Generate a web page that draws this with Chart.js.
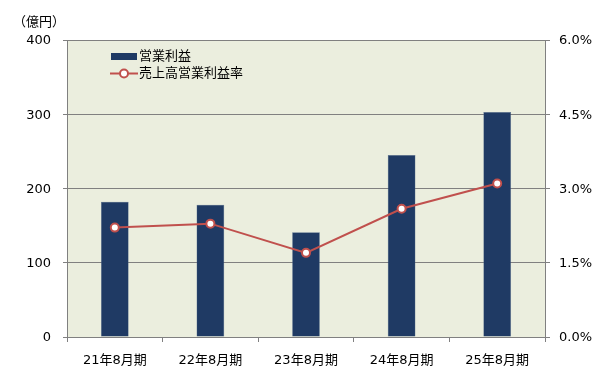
<!DOCTYPE html>
<html>
<head>
<meta charset="utf-8">
<script src="https://cdn.jsdelivr.net/npm/chart.js@4/dist/chart.umd.min.js"></script>
<style>
html,body{margin:0;padding:0;background:#fff;}
#wrap{position:relative;width:610px;height:371px;}
</style>
</head>
<body>
<div id="wrap"><canvas id="c" width="610" height="371"></canvas></div>
<script>
const categories = ['21年8月期','22年8月期','23年8月期','24年8月期','25年8月期'];
const operatingProfit = [182, 178, 141, 245, 303];
const operatingMargin = [2.21, 2.29, 1.70, 2.59, 3.10];
const leftTicks = [0, 100, 200, 300, 400];
const rightTicks = [0, 1.5, 3.0, 4.5, 6.0];
const unitLabel = '（億円）';
const seriesNames = ['営業利益', '売上高営業利益率'];

const FONT = "'DejaVu Sans', 'Noto Sans CJK JP', sans-serif";
const NAVY = '#1F3A64';
const RED = '#C0504D';
const GRID = '#808080';

const bgPlugin = {
  id: 'bg',
  beforeDraw(chart) {
    const {ctx, chartArea: a} = chart;
    ctx.save();
    ctx.fillStyle = '#EBEEDE';
    ctx.fillRect(a.left, a.top, a.right - a.left, a.bottom - a.top);
    ctx.restore();
  }
};

const extrasPlugin = {
  id: 'extras',
  afterDraw(chart) {
    const ctx = chart.ctx;
    ctx.save();
    ctx.font = "13px " + FONT;
    ctx.fillStyle = '#000';
    ctx.textBaseline = 'middle';
    ctx.textAlign = 'left';
    ctx.fillText(unitLabel, 13, 23);
    // legend
    const lx = 111, ly = 56.5;
    ctx.fillStyle = NAVY;
    ctx.fillRect(lx, ly - 3.5, 26, 7);
    ctx.fillStyle = '#000';
    ctx.fillText(chart.data.datasets[0].label, lx + 28, ly);
    const y2 = ly + 17;
    ctx.strokeStyle = RED;
    ctx.lineWidth = 2;
    ctx.beginPath();
    ctx.moveTo(lx - 1, y2);
    ctx.lineTo(lx + 27, y2);
    ctx.stroke();
    ctx.beginPath();
    ctx.arc(lx + 13, y2, 4, 0, Math.PI * 2);
    ctx.fillStyle = '#fff';
    ctx.fill();
    ctx.stroke();
    ctx.fillStyle = '#000';
    ctx.fillText(chart.data.datasets[1].label, lx + 28, y2);
    ctx.restore();
  }
};

new Chart(document.getElementById('c'), {
  type: 'bar',
  data: {
    labels: categories,
    datasets: [
      {
        type: 'bar',
        label: seriesNames[0],
        data: operatingProfit,
        backgroundColor: NAVY,
        borderColor: '#5a7090',
        borderWidth: 0.5,
        yAxisID: 'y',
        categoryPercentage: 1,
        barPercentage: 0.29,
        order: 2
      },
      {
        type: 'line',
        label: seriesNames[1],
        data: operatingMargin,
        borderColor: RED,
        borderWidth: 2,
        pointRadius: 4,
        pointBorderWidth: 2,
        pointBackgroundColor: '#fff',
        pointBorderColor: RED,
        tension: 0,
        yAxisID: 'y1',
        order: 1
      }
    ]
  },
  options: {
    responsive: false,
    animation: false,
    layout: {padding: {top: 40, left: 0, right: 0, bottom: 0}},
    plugins: {legend: {display: false}, tooltip: {enabled: false}},
    scales: {
      x: {
        offset: true,
        grid: {display: true, drawOnChartArea: false, offset: true, tickLength: 5, color: GRID},
        border: {display: true, color: GRID, width: 1},
        ticks: {font: {family: FONT, size: 13}, color: '#000', padding: 11, maxRotation: 0},
        afterFit(s) { s.height = 34; }
      },
      y: {
        position: 'left',
        min: 0, max: 400,
        afterBuildTicks(s) { s.ticks = leftTicks.map(v => ({value: v})); },
        grid: {color: GRID, tickLength: 4, lineWidth: 1},
        border: {display: true, color: GRID},
        ticks: {font: {family: FONT, size: 13}, color: '#000', padding: 12, labelOffset: 1},
        afterFit(s) { s.width = 67; }
      },
      y1: {
        position: 'right',
        min: 0, max: 6,
        afterBuildTicks(s) { s.ticks = rightTicks.map(v => ({value: v})); },
        grid: {drawOnChartArea: false, color: GRID, tickLength: 5},
        border: {display: true, color: GRID},
        ticks: {font: {family: FONT, size: 13}, color: '#000', padding: 9, labelOffset: 1,
          callback: v => Number(v).toFixed(1) + '%'},
        afterFit(s) { s.width = 65; }
      }
    }
  },
  plugins: [bgPlugin, extrasPlugin]
});
</script>
</body>
</html>
